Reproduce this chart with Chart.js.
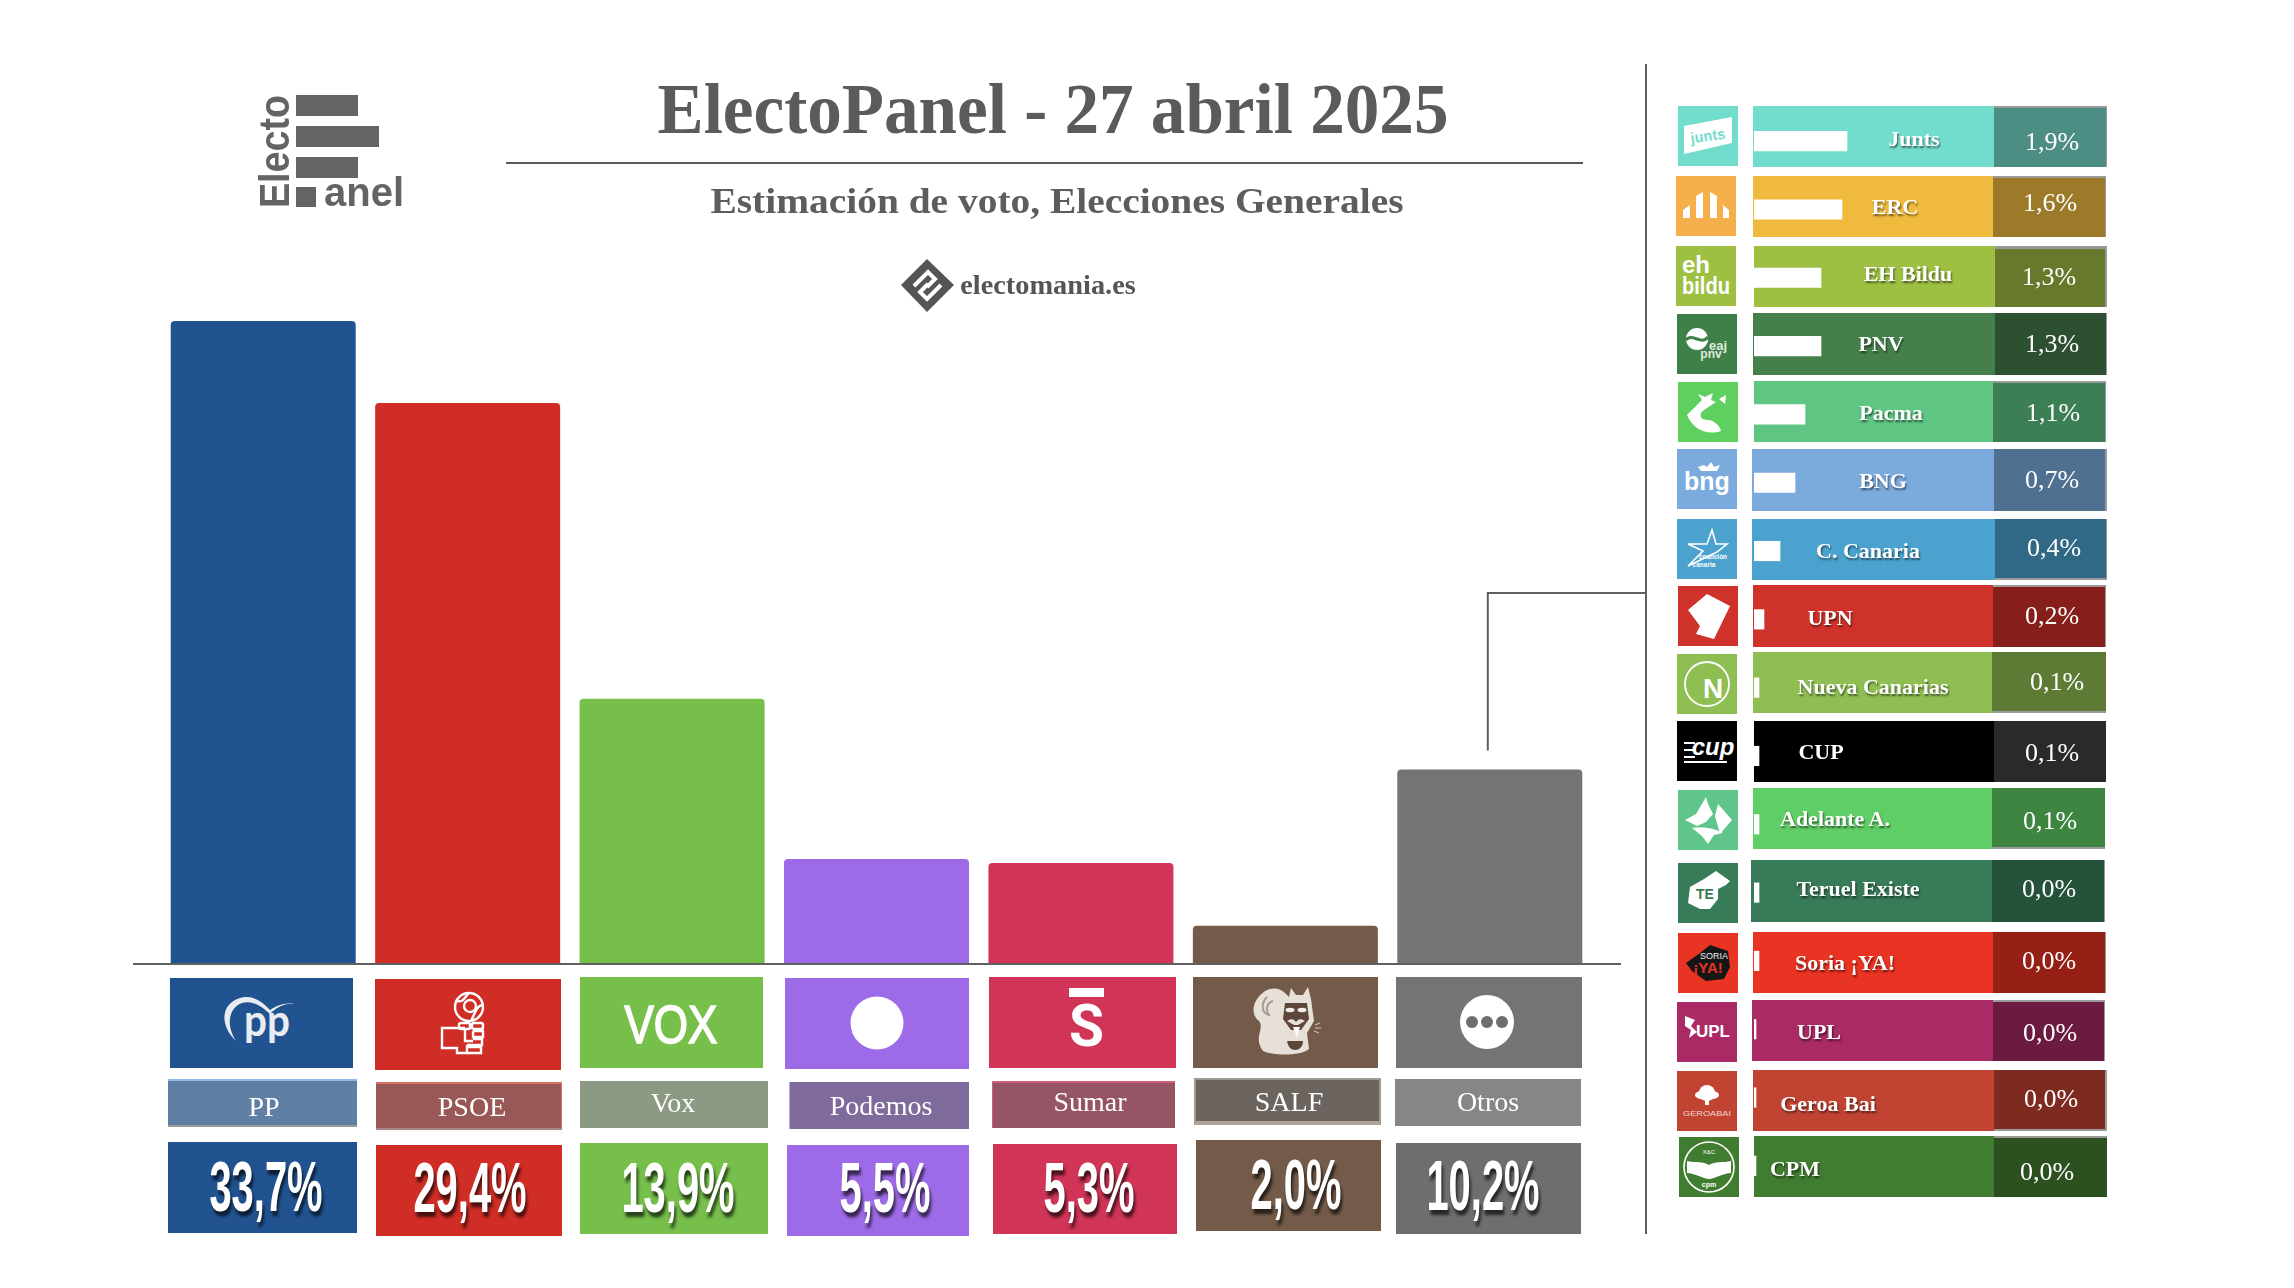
<!DOCTYPE html>
<html lang="es">
<head>
<meta charset="utf-8">
<title>ElectoPanel - 27 abril 2025</title>
<script src="https://cdn.jsdelivr.net/npm/chart.js@4"></script>
<style>
  html, body { margin: 0; padding: 0; background: #fff; }
  #page { position: relative; width: 2294px; height: 1288px; overflow: hidden; font-family: "Liberation Serif", serif; }
  #page canvas { position: absolute; }
  .box { position: absolute; box-sizing: border-box; }
  .txt { position: absolute; white-space: nowrap; transform: translate(-50%, -50%); color: #fff; line-height: 1; }
  .box svg { display: block; width: 100%; height: 100%; }
</style>
</head>
<body>
<div id="page">
  <canvas id="mainChart" width="2294" height="1288" style="left:0;top:0"></canvas>
  <div id="deco"></div>
  <canvas id="restChart" width="240" height="1093" style="left:1754px;top:107px"></canvas>
  <div id="labels"></div>
</div>
<script>
// Datos principales
const parties = ['PP', 'PSOE', 'Vox', 'Podemos', 'Sumar', 'SALF', 'Otros'];
const partyValues = [33.7, 29.4, 13.9, 5.5, 5.3, 2.0, 10.2];
const partyColors = ['#225391', '#d02d26', '#76bf4b', '#9d6be7', '#d03456', '#745b49', '#747474'];
const partyNameColors = ['#5f7fa5', '#985856', '#8c9a84', '#7e6b9b', '#955564', '#6c645e', '#868686'];
const partyNameEdges = ['border-top:2px solid #90b8e8;border-bottom:2px solid #9a9a9a;', 'border-top:2px solid #d87068;border-right:1px solid #d87068;border-bottom:2px solid #a88;', '', 'border-left:1px solid #b9a8e0;', 'border-top:2px solid #d0607a;border-left:1px solid #d0607a;', 'border:2px solid #a09a94;border-bottom:4px solid #b0a49a;', ''];

// "Otros" desglosado
const restNames = ['Junts', 'ERC', 'EH Bildu', 'PNV', 'Pacma', 'BNG', 'C. Canaria', 'UPN', 'Nueva Canarias', 'CUP', 'Adelante A.', 'Teruel Existe', 'Soria ¡YA!', 'UPL', 'Geroa Bai', 'CPM'];
const restValues = [1.9, 1.6, 1.3, 1.3, 1.1, 0.7, 0.4, 0.2, 0.1, 0.1, 0.1, 0.0, 0.0, 0.0, 0.0, 0.0];
// largo de la barra blanca
const restBars = [1.86, 1.76, 1.34, 1.34, 1.02, 0.82, 0.52, 0.2, 0.1, 0.1, 0.1, 0.1, 0.1, 0.04, 0.04, 0.04];
const restColors = ['#73ddcd', '#efba3e', '#9dc043', '#45804b', '#5fc583', '#7babdd', '#4ba2ce', '#cf322a', '#8fbf52', '#000000', '#60ce66', '#387b58', '#e93323', '#a92a64', '#c14332', '#417d30'];
const restDark = ['#4c8e84', '#9c7a2a', '#677a2b', '#2d5130', '#3c7f54', '#4f7090', '#306885', '#861f19', '#5e7b35', '#2a2a2a', '#3e8542', '#24523a', '#961f16', '#6c1b40', '#7d2b20', '#2c501f'];
const restLogoColors = ['#73ddcd', '#f5b04b', '#9dc043', '#3f7f48', '#5fcf5f', '#7babdd', '#4ba2ce', '#cf322a', '#8fbf52', '#000000', '#5fc58a', '#387b58', '#e93323', '#a92a64', '#c14332', '#417d30'];

// Maqueta: x, y, ancho, alto de las cajas (el original no esta alineado del todo)
const logoBoxes = [[170,978,183,90],[375,979,186,91],[580,977,183,91],[785,978,184,91],[989,977,187,91],[1193,977,185,91],[1396,977,186,91]];
const nameBoxes = [[168,1079,189,48],[376,1082,186,48],[580,1081,188,47],[789,1082,180,47],[992,1081,183,47],[1194,1078,187,47],[1395,1079,186,47]];
const pctBoxes = [[168,1142,189,91],[376,1145,186,91],[580,1143,188,91],[787,1145,182,91],[993,1144,184,90],[1196,1140,185,91],[1396,1143,185,91]];
const nameCenters = [[264,1107],[472,1107],[673,1103],[881,1106],[1090,1102],[1289,1102],[1488,1102]];
const pctCenters = [[266,1187],[470,1188],[678,1188],[885,1188],[1089,1188],[1296,1185],[1483,1186]];

const rowTops = [106,176,246,313,381,449,519,585,652,721,788,860,932,1000,1070,1136];
const rowBottoms = [167,237,307,375,442,511,580,647,713,782,849,922,993,1061,1131,1197];
const rowLefts = [1753,1753,1754,1753,1754,1752,1752,1753,1753,1754,1753,1751,1753,1752,1753,1754];
const rowSplits = [1994,1993,1995,1995,1993,1994,1995,1993,1992,1994,1992,1992,1993,1993,1994,1994];
const rowRights = [2107,2106,2107,2107,2106,2107,2107,2106,2106,2106,2105,2105,2106,2105,2107,2107];
const rowEdges = ['tr','tr','TR','r','tr','R','rb','tr','b','','b','r','r','tr','Rb','t'];
const restLogoX = [1678,1676,1676,1677,1678,1677,1677,1678,1677,1677,1678,1678,1678,1677,1677,1679];
const restLogoY = [106,176,246,314,382,449,519,586,654,721,790,863,933,1002,1071,1137];
const restLabelPos = [[1914,139],[1895,207],[1908,274],[1881,344],[1891,413],[1883,481],[1868,551],[1830,618],[1873,687],[1821,752],[1835,819],[1858,889],[1845,963],[1819,1032],[1828,1104],[1795,1169]];
const restPctPos = [[2052,142],[2050,203],[2049,277],[2052,344],[2053,413],[2052,480],[2054,548],[2052,616],[2057,682],[2052,753],[2050,821],[2049,889],[2049,961],[2050,1033],[2051,1099],[2047,1172]];

const fmt = v => v.toFixed(1).replace('.', ',') + '%';
const deco = document.getElementById('deco');
const labels = document.getElementById('labels');

function addBox(parent, x, y, w, h, bg, html, css) {
    const d = document.createElement('div');
    d.className = 'box';
    d.style.cssText = `left:${x}px;top:${y}px;width:${w}px;height:${h}px;background:${bg};${css || ''}`;
    if (html) d.innerHTML = html;
    parent.appendChild(d);
    return d;
}

function addText(parent, x, y, text, css) {
    const d = document.createElement('div');
    d.className = 'txt';
    d.textContent = text;
    d.style.cssText = `left:${x}px;top:${y}px;${css || ''}`;
    parent.appendChild(d);
    return d;
}

/* =========================================
   Logos (aproximados, SVG en linea)
   ========================================= */
const SANS = 'font-family="Liberation Sans, sans-serif" font-weight="bold"';
const partyLogos = [
    // PP
    `<svg viewBox="0 0 183 90"><path d="M66 63 C50 48 50 26 70 20 C84 16 94 26 100 32 C106 28 114 24 124 26 C114 25 106 30 100 36 C92 28 82 22 72 25 C58 30 56 48 66 63 Z" fill="#e9edf2"/><text x="74" y="58" font-family="Lato, sans-serif" font-weight="bold" font-size="44" fill="#e9edf2" textLength="46" lengthAdjust="spacingAndGlyphs">pp</text></svg>`,
    // PSOE
    `<svg viewBox="0 0 186 91"><g fill="none" stroke="#fff" stroke-width="2.4"><circle cx="94" cy="28" r="14"/><circle cx="95" cy="27" r="6"/><path d="M82 22 C88 24 90 18 94 14 M108 26 C102 26 100 34 96 42"/><rect x="84" y="44" width="11" height="6" rx="2"/><rect x="97" y="44" width="11" height="6" rx="2"/><path d="M90 49 H67 V69 H82 V74 H92 V66"/><path d="M90 49 V62 H98 M98 52 H108 V58 H98 V52 M98 60 H107 V66 H92 M92 68 H106 V74 H92"/></g></svg>`,
    // Vox
    `<svg viewBox="0 0 183 91"><text x="91" y="66" font-family="Liberation Sans, sans-serif" font-size="54" text-anchor="middle" fill="#fff" stroke="#fff" stroke-width="1.6" textLength="93" lengthAdjust="spacingAndGlyphs">VOX</text></svg>`,
    // Podemos
    `<svg viewBox="0 0 184 91"><circle cx="92" cy="45" r="26.5" fill="#fff"/></svg>`,
    // Sumar
    `<svg viewBox="0 0 187 91"><rect x="80" y="11" width="35" height="9" fill="#fff"/><text x="97.5" y="69" font-family="Roboto, sans-serif" font-weight="bold" font-size="60" text-anchor="middle" fill="#fff" textLength="35" lengthAdjust="spacingAndGlyphs">S</text></svg>`,
    // SALF
    `<svg viewBox="0 0 185 91"><path d="M70 74 C60 60 72 52 66 44 C58 38 58 24 72 14 C80 9 88 12 92 16 L96 20 L98 11 L103 18 H110 L115 10 L118 22 L121 44 L114 56 L116 72 C108 79 80 79 70 74 Z" fill="#e6e0d8"/><path d="M74 20 C68 26 68 36 76 38 C72 32 74 26 80 24" fill="none" stroke="#a79a8e" stroke-width="2"/><path d="M92 26 L114 26 L116 42 L108 53 H98 L90 42 Z" fill="#5e473a"/><ellipse cx="97" cy="33" rx="4.5" ry="2.2" fill="#efeae3"/><ellipse cx="109" cy="33" rx="4.5" ry="2.2" fill="#efeae3"/><path d="M94 44 C98 41 101 42 103 45 C105 42 108 41 112 44 L105 48 H101 Z" fill="#e6e0d8"/><path d="M100 50 H107 L104 60 Z" fill="#fff"/><path d="M94 64 H110 C110 70 106 73 102 73 C98 73 95 70 94 64 Z" fill="#5e473a"/><path d="M122 48 L127 46 M122 51 L128 51 M121 54 L126 56" stroke="#cfc8bf" stroke-width="1"/></svg>`,
    // Otros
    `<svg viewBox="0 0 186 91"><circle cx="91" cy="45" r="27" fill="#fff"/><circle cx="76" cy="45" r="6" fill="#6e6e6e"/><circle cx="91" cy="45" r="6" fill="#6e6e6e"/><circle cx="106" cy="45" r="6" fill="#6e6e6e"/></svg>`
];

const restLogos = [
    `<polygon points="6,20 54,11 54,37 6,48" fill="#fff"/><text x="30" y="35" ${SANS} font-size="15" text-anchor="middle" fill="#73ddcd" textLength="35" lengthAdjust="spacingAndGlyphs" transform="rotate(-8 30 31)">junts</text>`,
    `<path d="M7 42 V34 L14 29 V42 Z M20 42 V20 L27 16 V42 Z M34 42 V16 L41 20 V42 Z M47 42 V29 L53 34 V42 Z" fill="#fff"/>`,
    `<text x="6" y="27" ${SANS} font-size="24" fill="#fff">eh</text><text x="6" y="48" ${SANS} font-size="24" fill="#fff" textLength="48" lengthAdjust="spacingAndGlyphs">bildu</text>`,
    `<circle cx="20" cy="25" r="11" fill="#fff"/><path d="M9 26 C15 18 24 32 31 23" fill="none" stroke="#3f7f48" stroke-width="3"/><text x="41" y="36" ${SANS} font-size="13" text-anchor="middle" fill="#dfe9dc">eaj</text><text x="34" y="44" ${SANS} font-size="12" text-anchor="middle" fill="#dfe9dc">pnv</text>`,
    `<path d="M9 33 L24 18 L20 12 L27 15 L35 11 L33 18 L38 20 L26 28 C20 32 22 38 30 38 C36 38 42 44 43 49 C28 54 14 46 9 33 Z" fill="#fff"/><path d="M41 17 L48 13 L47 22 Z" fill="#fff"/>`,
    `<path d="M30 18 l4 -5 l3 5 l6 -2 l-3 6 h-16 l-3 -4 l6 -2 z" fill="#fff"/><text x="30" y="41" ${SANS} font-size="25" text-anchor="middle" fill="#fff">bng</text>`,
    `<path d="M35 11 L39 25 L50 25 L40 33 L11 47 L26 32 L11 25 L30 25 Z" fill="none" stroke="#fff" stroke-width="1.6"/><text x="36" y="40" ${SANS} font-size="6.5" text-anchor="middle" fill="#fff">coalición</text><text x="27" y="48" ${SANS} font-size="6.5" text-anchor="middle" fill="#fff">canaria</text>`,
    `<polygon points="10,24 29,8 52,20 36,53 18,48 22,40" fill="#fff"/>`,
    `<circle cx="30" cy="30" r="22" fill="none" stroke="#fff" stroke-width="1.8"/><text x="36" y="44" ${SANS} font-size="28" text-anchor="middle" fill="#fff">N</text>`,
    `<text x="36" y="34" ${SANS} font-style="italic" font-size="24" text-anchor="middle" fill="#fff">cup</text><path d="M7 22 H18 M7 29 H16 M7 36 H18 M7 41 H50" stroke="#fff" stroke-width="1.8"/>`,
    `<path d="M7 30 L18 24 L28 7 L30 14 L35 24 L28 32 L19 36 Z M40 14 L54 30 L42 44 L37 26 Z M14 38 C24 36 36 38 45 43 L36 45 L30 54 L24 46 Z" fill="#fff"/>`,
    `<path d="M12 24 L26 16 L38 8 L52 18 L48 22 L40 26 V36 L32 46 L22 46 L10 40 Z" fill="#fff"/><text x="27" y="36" ${SANS} font-size="14" text-anchor="middle" fill="#387b58">TE</text>`,
    `<path d="M8 30 L22 20 L32 12 L50 18 L52 34 L46 46 L28 48 L14 38 Z" fill="#161616"/><text x="36" y="26" font-family="Liberation Sans" font-size="9" text-anchor="middle" fill="#eee">SORIA</text><text x="30" y="40" ${SANS} font-size="15" text-anchor="middle" fill="#e93323">¡YA!</text>`,
    `<path d="M8 14 L18 18 L14 24 L20 30 L12 36 L14 28 L8 24 Z" fill="#fff"/><text x="36" y="35" ${SANS} font-size="17" text-anchor="middle" fill="#fff">UPL</text>`,
    `<circle cx="30" cy="22" r="8" fill="#fff"/><ellipse cx="30" cy="24" rx="12" ry="5" fill="#fff"/><rect x="28" y="24" width="4" height="10" fill="#fff"/><text x="30" y="45" font-family="Liberation Sans" font-size="8" text-anchor="middle" fill="#f0d8d2" textLength="48" lengthAdjust="spacingAndGlyphs">GEROABAI</text>`,
    `<circle cx="30" cy="30" r="25" fill="none" stroke="#fff" stroke-width="1.6"/><path d="M8 24 C16 26 24 24 30 28 C36 24 44 26 52 24 L52 36 C44 36 36 42 30 42 C24 42 16 36 8 36 Z" fill="#fff"/><text x="30" y="17" font-family="Liberation Sans" font-size="6" text-anchor="middle" fill="#fff">X&amp;C</text><text x="30" y="50" ${SANS} font-size="7" text-anchor="middle" fill="#fff">cpm</text>`
];

/* =========================================
   Cabecera
   ========================================= */
addBox(deco, 296, 95, 62, 21, '#646464');
addBox(deco, 296, 126, 83, 21, '#646464');
addBox(deco, 296, 157, 62, 21, '#646464');
addBox(deco, 296, 187, 20, 20, '#646464');
addBox(deco, 254, 90, 40, 122, 'transparent', `<svg viewBox="0 0 40 122"><text transform="translate(35 118) rotate(-90)" font-family="Liberation Sans" font-weight="bold" font-size="43" fill="#646464" textLength="113" lengthAdjust="spacingAndGlyphs">Electo</text></svg>`);
addText(labels, 364, 192, 'anel', 'font:bold 40px "Liberation Sans";color:#646464;');

addText(labels, 1053, 109, 'ElectoPanel - 27 abril 2025', 'font:bold 72px "Liberation Serif";color:#5b5b5b;transform:translate(-50%,-50%) scaleX(.96);');
addBox(deco, 506, 162, 1077, 2, '#5a5a5a');
addText(labels, 1057, 201, 'Estimación de voto, Elecciones Generales', 'font:bold 36px "Liberation Serif";color:#5d5d5d;transform:translate(-50%,-50%) scaleX(1.095);');
addBox(deco, 901, 259, 53, 53, 'transparent', `<svg viewBox="0 0 53 53"><polygon points="26,0 53,26 26,53 0,26" fill="#555"/><path d="M13 27 L27 13 L34 20 L26 28 M40 26 L26 40 L19 33 L27 25" fill="none" stroke="#fff" stroke-width="4"/></svg>`);
addText(labels, 1048, 285, 'electomania.es', 'font:bold 27px "Liberation Serif";color:#555;transform:translate(-50%,-50%) scaleX(1.05);');

// separador vertical
addBox(deco, 1645, 64, 2, 1170, '#5f5f5f');

/* =========================================
   Tarjetas bajo las barras
   ========================================= */
parties.forEach((name, i) => {
    const lb = logoBoxes[i], nb = nameBoxes[i], pb = pctBoxes[i];
    addBox(deco, lb[0], lb[1], lb[2], lb[3], partyColors[i], partyLogos[i]);
    addBox(deco, nb[0], nb[1], nb[2], nb[3], partyNameColors[i], '', partyNameEdges[i]);
    addBox(deco, pb[0], pb[1], pb[2], pb[3], partyColors[i] === '#747474' ? '#6e6e6e' : partyColors[i]);
    addText(labels, nameCenters[i][0], nameCenters[i][1], name, 'font:28px "Liberation Serif";');
    addText(labels, pctCenters[i][0], pctCenters[i][1], fmt(partyValues[i]),
        'font:bold 70px "Liberation Sans";transform:translate(-50%,-50%) scaleX(.57);text-shadow:3px 5px 4px rgba(0,0,0,.65);');
});

/* =========================================
   Filas de "Otros"
   ========================================= */
function edgeCss(code) {
    let css = '';
    if (code.includes('t')) css += 'border-top:2px solid #9a9a9a;';
    if (code.includes('T')) css += 'border-top:3px solid #9a9a9a;';
    if (code.includes('r')) css += 'border-right:1px solid #9a9a9a;';
    if (code.includes('R')) css += 'border-right:2px solid #9a9a9a;';
    if (code.includes('b')) css += 'border-bottom:2px solid #9a9a9a;';
    return css;
}

restNames.forEach((name, i) => {
    const h = rowBottoms[i] - rowTops[i];
    addBox(deco, restLogoX[i], restLogoY[i], 60, 60, restLogoColors[i], `<svg viewBox="0 0 60 60">${restLogos[i]}</svg>`);
    addBox(deco, rowLefts[i], rowTops[i], rowSplits[i] - rowLefts[i], h, restColors[i]);
    addBox(deco, rowSplits[i], rowTops[i], rowRights[i] - rowSplits[i], h, restDark[i], '', edgeCss(rowEdges[i]));
    addText(labels, restLabelPos[i][0], restLabelPos[i][1], name, 'font:bold 22px "Liberation Serif";text-shadow:1px 2px 2px rgba(0,0,0,.55);');
    addText(labels, restPctPos[i][0], restPctPos[i][1], fmt(restValues[i]), 'font:26px "Liberation Serif";');
});

/* =========================================
   Graficos
   ========================================= */
// Linea base y conector hacia el desglose
const guideLines = {
    id: 'guideLines',
    afterDatasetsDraw(chart) {
        const { ctx, scales: { x, y }, chartArea } = chart;
        const base = y.getPixelForValue(0);
        const otros = x.getPixelForValue(6) - 2;
        ctx.save();
        ctx.strokeStyle = '#606060';
        ctx.lineWidth = 2;
        ctx.beginPath();
        ctx.moveTo(chartArea.left - 28, base);
        ctx.lineTo(chartArea.right + 29, base);
        ctx.stroke();
        ctx.strokeStyle = '#5f5f5f';
        ctx.beginPath();
        ctx.moveTo(1645, 593);
        ctx.lineTo(otros, 593);
        ctx.lineTo(otros, y.getPixelForValue(partyValues[6]) - 19);
        ctx.stroke();
        ctx.restore();
    }
};

new Chart(document.getElementById('mainChart').getContext('2d'), {
    type: 'bar',
    data: {
        labels: parties,
        datasets: [{
            data: partyValues,
            backgroundColor: partyColors,
            borderRadius: { topLeft: 4, topRight: 4 },
            borderSkipped: 'bottom',
            barPercentage: 0.905,
            categoryPercentage: 1
        }]
    },
    options: {
        responsive: false,
        animation: false,
        layout: { padding: { left: 161, right: 702, top: 321, bottom: 324 } },
        plugins: { legend: { display: false }, tooltip: { enabled: false } },
        scales: {
            x: { display: false },
            y: { display: false, min: 0, max: 33.7 }
        }
    },
    plugins: [guideLines]
});

new Chart(document.getElementById('restChart').getContext('2d'), {
    type: 'bar',
    data: {
        labels: restNames,
        datasets: [{
            data: restBars,
            backgroundColor: '#ffffff',
            barThickness: 19.5
        }]
    },
    options: {
        indexAxis: 'y',
        responsive: false,
        animation: false,
        plugins: { legend: { display: false }, tooltip: { enabled: false } },
        scales: {
            x: { display: false, min: 0, max: 4.8 },
            y: { display: false }
        }
    }
});
</script>
</body>
</html>
